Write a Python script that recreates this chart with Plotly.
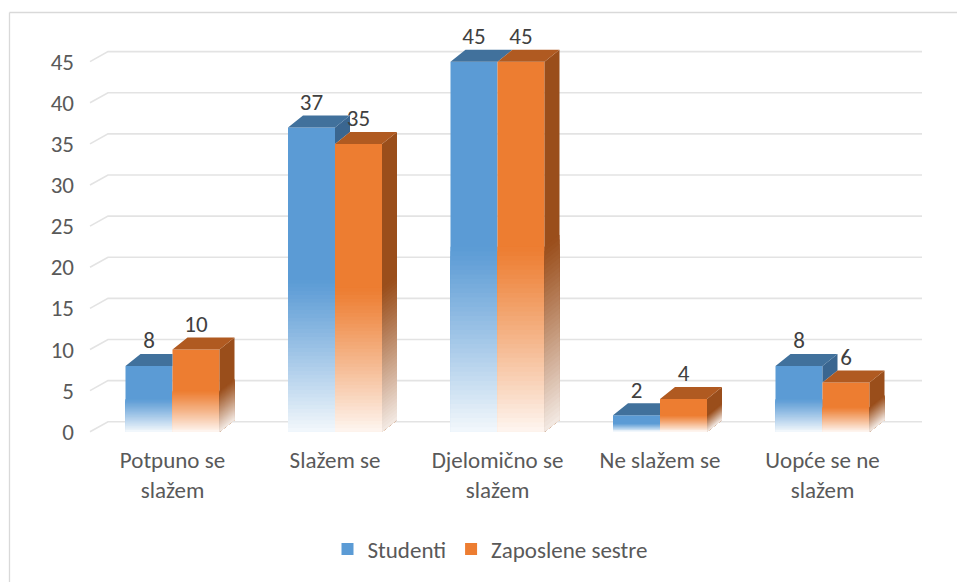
import plotly.graph_objects as go

# ---------------- data ----------------
categories = ["Potpuno se<br>slažem", "Slažem se", "Djelomično se<br>slažem",
              "Ne slažem se", "Uopće se ne<br>slažem"]
studenti = [8, 37, 45, 2, 8]
sestre = [10, 35, 45, 4, 6]
series_names = ["Studenti", "Zaposlene sestre"]
y_ticks = [0, 5, 10, 15, 20, 25, 30, 35, 40, 45]

# ---------------- geometry / style ----------------
W, H = 957, 582
L, R, T, B = 75, 13, 37, 142
PX_X = 162.5                          # pixels per category unit
PX_Y = (H - T - B) / 49.0             # pixels per value unit
x_range = [-0.6, -0.6 + (W - L - R) / PX_X]
y_range = [-1, 48]
dx = 15 / PX_X                        # 3-D depth offset (x)
dy = 12 / PX_Y                        # 3-D depth offset (y)
bw = 47 / PX_X                        # bar front width

BLUE, BLUE_TOP, BLUE_SIDE = (91, 155, 213), (65, 113, 156), (58, 102, 144)
ORANGE, ORANGE_TOP, ORANGE_SIDE = (237, 125, 49), (176, 90, 33), (154, 78, 27)
FADE_TOP = 0.5
N_LEV = 40
FONT = "Calibri, Carlito, Lato, sans-serif"
FS = 23


def mix(c, f):
    r, g, b = (round(ch + (255 - ch) * f) for ch in c)
    return f"rgb({r},{g},{b})"


idx = list(range(len(categories)))
fig = go.Figure()

levels = [FADE_TOP * (N_LEV - k) / N_LEV for k in range(N_LEV)]  # decreasing


def white_frac(k, wmax):
    top = levels[k]
    bot = levels[k + 1] if k + 1 < N_LEV else 0.0
    mid = (top + bot) / 2 / FADE_TOP
    return wmax * (1 - mid) ** 1.1


# ---- front faces as bars with vertical fade ----
for vals, off, col in [(studenti, -bw, BLUE), (sestre, 0.0, ORANGE)]:
    fig.add_trace(go.Bar(x=idx, y=vals, base=0, width=bw, offset=off,
                         marker=dict(color=mix(col, 0), line_width=0),
                         showlegend=False, hoverinfo="skip"))
    for k, h in enumerate(levels):
        fig.add_trace(go.Bar(x=idx, y=[v * h for v in vals], base=0, width=bw,
                             offset=off,
                             marker=dict(color=mix(col, white_frac(k, 0.93)),
                                         line_width=0),
                             showlegend=False, hoverinfo="skip"))


def poly_trace(polys, color):
    xs, ys = [], []
    for p in polys:
        for (a, b) in p:
            xs.append(a)
            ys.append(b)
        xs.append(p[0][0]); ys.append(p[0][1])
        xs.append(None); ys.append(None)
    return go.Scatter(x=xs, y=ys, mode="lines", fill="toself", fillcolor=color,
                      line=dict(width=0, color=color), showlegend=False,
                      hoverinfo="skip")


# ---- blue visible side faces (where taller than orange) and top faces ----
side_b = []
top_b = []
for i, vb, vo in zip(idx, studenti, sestre):
    xl, xr = i - bw, i
    if vb > vo:
        side_b.append([(xr, vo), (xr, vb), (xr + dx, vb + dy), (xr + dx, vo + dy)])
    if vb >= vo:
        top_b.append([(xl, vb), (xr, vb), (xr + dx, vb + dy), (xl + dx, vb + dy)])
    elif vo < vb + dy:
        top_b.append([(xl, vb), (xr, vb), (xr, vo),
                      (xr + (vb + dy - vo) / dy * dx, vb + dy), (xl + dx, vb + dy)])
    else:
        top_b.append([(xl, vb), (xr, vb), (xr, vb + dy), (xl + dx, vb + dy)])
if side_b:
    fig.add_trace(poly_trace(side_b, mix(BLUE_SIDE, 0)))
fig.add_trace(poly_trace(top_b, mix(BLUE_TOP, 0)))

# ---- orange side faces with fade ----
xo = [i + bw for i in idx]
fig.add_trace(poly_trace([[(x, 0), (x, v), (x + dx, v + dy), (x + dx, dy)]
                          for x, v in zip(xo, sestre)], mix(ORANGE_SIDE, 0)))
for k, h in enumerate(levels):
    fig.add_trace(poly_trace([[(x, 0), (x, v * h), (x + dx, v * h + dy), (x + dx, dy)]
                              for x, v in zip(xo, sestre)],
                             mix(ORANGE_SIDE, white_frac(k, 0.88))))
# ---- orange top faces ----
fig.add_trace(poly_trace([[(i, v), (i + bw, v), (i + bw + dx, v + dy), (i + dx, v + dy)]
                          for i, v in zip(idx, sestre)], mix(ORANGE_TOP, 0)))

# ---- data labels ----
for vals, off in [(studenti, -bw), (sestre, 0.0)]:
    fig.add_trace(go.Scatter(x=[i + off + bw / 2 for i in idx],
                             y=[v + dy for v in vals], mode="text",
                             text=[str(v) for v in vals], textposition="top center",
                             textfont=dict(size=FS, color="#404040", family=FONT),
                             cliponaxis=False, showlegend=False, hoverinfo="skip"))

# ---- legend entries ----
for name, col in zip(series_names, [BLUE, ORANGE]):
    fig.add_trace(go.Bar(x=[None], y=[None], name=name,
                         marker=dict(color=mix(col, 0), line_width=0)))

# ---- gridlines (3-D back wall) as shapes below traces ----
gx0 = (90 - L) / PX_X + x_range[0]
gx1 = (922 - L) / PX_X + x_range[0]
gdx, gdy = 18 / PX_X, 10 / PX_Y
shapes = []
for v in y_ticks:
    shapes.append(dict(type="path", xref="x", yref="y", layer="below",
                       path=f"M {gx0},{v} L {gx0 + gdx},{v + gdy} L {gx1},{v + gdy}",
                       line=dict(color="#E3E3E3", width=1.6)))

# ---- chart border ----
pw, ph = W - L - R, H - T - B
bx = (9.5 - L) / pw
by = (H - B - 12.5) / ph
shapes.append(dict(type="line", xref="paper", yref="paper", x0=bx, x1=(W - L) / pw,
                   y0=by, y1=by, line=dict(color="#D9D9D9", width=1.3)))
shapes.append(dict(type="line", xref="paper", yref="paper", x0=bx, x1=bx,
                   y0=by, y1=(H - B - H) / ph, line=dict(color="#D9D9D9", width=1.3)))

fig.update_layout(
    width=W, height=H,
    margin=dict(l=L, r=R, t=T, b=B),
    barmode="overlay",
    plot_bgcolor="white", paper_bgcolor="white",
    font=dict(family=FONT, size=FS, color="#595959"),
    shapes=shapes,
    xaxis=dict(range=x_range, tickmode="array", tickvals=idx, ticktext=categories,
               showgrid=False, zeroline=False, showline=False, ticks="",
               ticklabelstandoff=4,
               tickfont=dict(size=FS, color="#595959"), fixedrange=True),
    yaxis=dict(range=y_range, tickmode="array", tickvals=y_ticks,
               showgrid=False, zeroline=False, showline=False, ticks="",
               tickfont=dict(size=FS, color="#595959"), fixedrange=True),
    legend=dict(orientation="h", x=(490 - L) / pw, xanchor="center",
                y=(H - B - 549) / ph, yanchor="middle", itemwidth=30,
                font=dict(size=FS, color="#595959"), bgcolor="rgba(0,0,0,0)"),
    showlegend=True,
)

fig.write_html("out.html", config={"displayModeBar": False},
               post_script="document.body.style.margin='0';"
                           "document.body.style.overflow='hidden';")
